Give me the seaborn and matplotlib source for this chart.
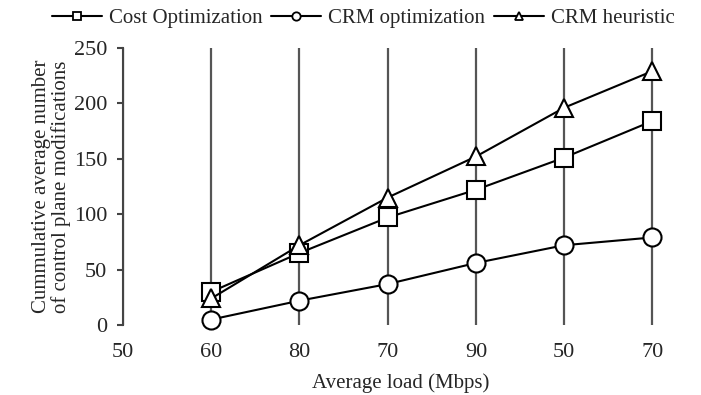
import pandas as pd
import numpy as np
import seaborn as sns
import matplotlib.pyplot as plt

# x categories (tick labels as printed in the figure)
load_labels = ['50', '60', '80', '70', '90', '50', '70']

# series values at positions 1..6
cost_opt = [30, 65, 97, 122, 151, 184]
crm_opt = [5, 22, 37, 56, 72, 79]
crm_heur = [24, 72, 115, 152, 196, 229]

positions = list(range(1, len(load_labels)))

data = pd.DataFrame({
    'pos': positions * 3,
    'value': cost_opt + crm_opt + crm_heur,
    'method': np.repeat(['Cost Optimization', 'CRM optimization', 'CRM heuristic'], len(positions)),
})

sns.set_style('white')
plt.rcParams['font.family'] = ['Liberation Serif', 'DejaVu Serif']
plt.rcParams['font.size'] = 15

fig = plt.figure(figsize=(7.01, 3.95), dpi=100)
ax = fig.add_axes([0.1755, 0.177, 0.793, 0.702])

sns.lineplot(data=data, x='pos', y='value', hue='method', style='method',
             palette=['black'] * 3, dashes=False,
             markers={'Cost Optimization': 's', 'CRM optimization': 'o', 'CRM heuristic': '^'},
             markersize=13, markerfacecolor='white', markeredgecolor='black', markeredgewidth=1.5,
             linewidth=1.5, ax=ax, clip_on=False, zorder=3)

ax.set_xlim(0, 6.3)
ax.set_ylim(0, 250)
ax.set_xticks(range(len(load_labels)))
ax.set_xticklabels(load_labels)
ax.set_yticks([0, 50, 100, 150, 200, 250])
ax.grid(axis='x', color='#555555', linewidth=1.6)
ax.grid(axis='y', visible=False)
ax.set_axisbelow(True)

for s in ['top', 'right', 'bottom']:
    ax.spines[s].set_visible(False)
ax.spines['left'].set_color('#444444')
ax.spines['left'].set_linewidth(1.5)
ax.tick_params(axis='y', direction='out', length=4.5, width=1.5, color='#444444', left=True,
               labelsize=16, pad=7)
ax.tick_params(axis='x', length=0, labelsize=16, pad=13)

ax.set_xlabel('Average load (Mbps)', fontsize=15, labelpad=8)
ax.set_ylabel('Cummulative average number\nof control plane modifications', fontsize=15,
              linespacing=1.0, labelpad=2)

handles, labels = ax.get_legend_handles_labels()
ax.get_legend().remove()
leg = fig.legend(handles, labels, loc='center', bbox_to_anchor=(0.518, 0.953), ncol=3, frameon=False,
                 fontsize=15, handlelength=2.4, columnspacing=0.4, handletextpad=0.35)
for h in leg.legend_handles:
    h.set_markersize(6)
    h.set_markeredgewidth(1.3)

fig.savefig('out.png', dpi=100)
